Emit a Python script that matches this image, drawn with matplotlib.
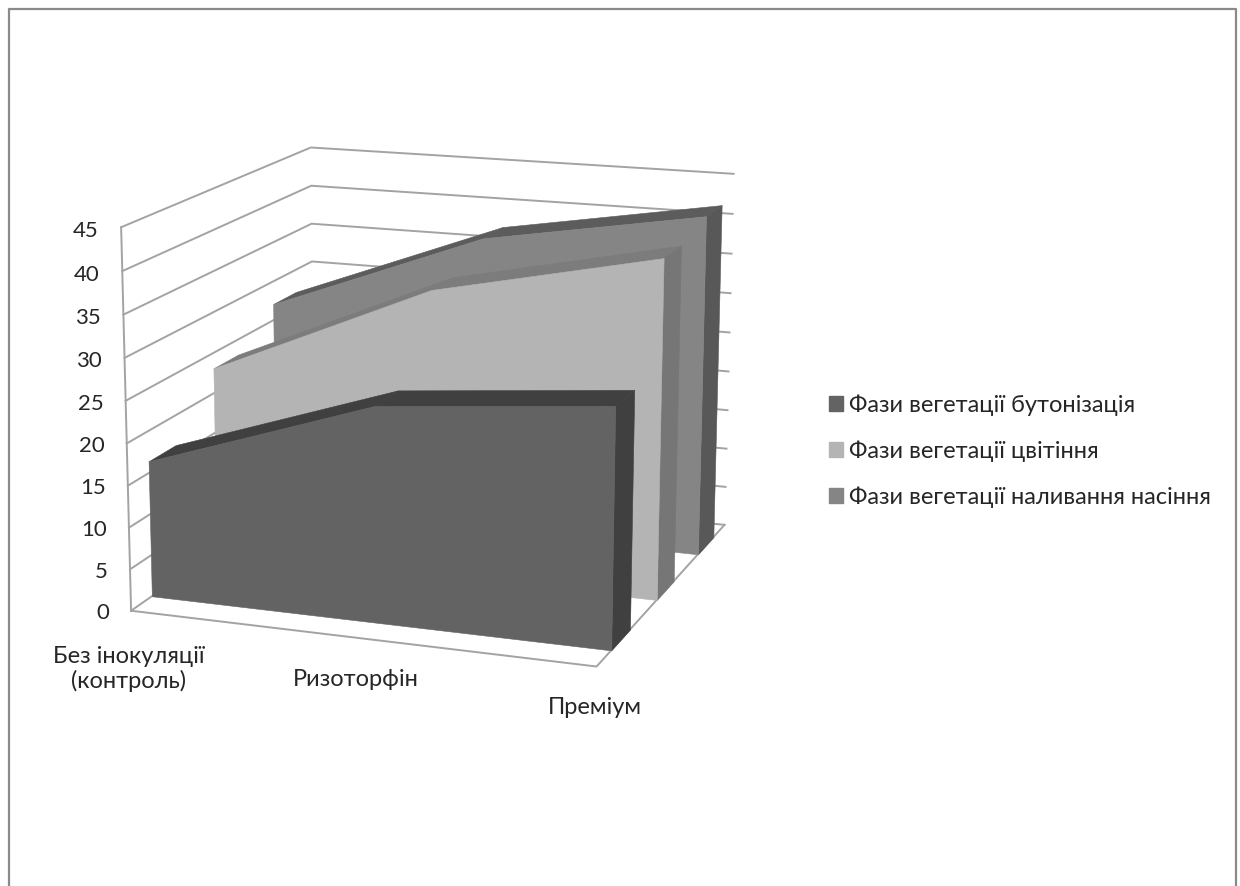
import matplotlib
matplotlib.use('Agg')
import matplotlib.pyplot as plt
from matplotlib.lines import Line2D
from matplotlib.patches import Patch
from mpl_toolkits.mplot3d import proj3d
from mpl_toolkits.mplot3d.art3d import Poly3DCollection

plt.rcParams['font.family'] = ['Lato', 'Noto Sans']

categories = ['Без інокуляції\n(контроль)', 'Ризоторфін', 'Преміум']
series_names = ['Фази вегетації бутонізація', 'Фази вегетації цвітіння', 'Фази вегетації наливання насіння']
budding = [16.4, 25.5, 28.0]
flowering = [23.1, 34.9, 40.7]
seed_fill = [27.1, 37.5, 42.1]
y_ticks = [0, 5, 10, 15, 20, 25, 30, 35, 40, 45]

text_color = '#262626'
grid_color = '#a3a3a3'

fig = plt.figure(figsize=(12.4, 8.86), dpi=100)

# camera and axes box fitted to the corners of the walls in the reference
side = 4021.04 / 5.4054
left = 441.824 - 0.51351 * side
bottom = 886 - 385.414 - 0.51351 * side
ax = fig.add_axes([left / 1240, bottom / 886, side / 1240, side / 886], projection='3d')
ax.set_xlim(0, 2, view_margin=0)
ax.set_ylim(0, 1, view_margin=0)
ax.set_zlim(0, 45, view_margin=0)
ax.set_xticks([])
ax.set_yticks([])
ax.set_zticks([])
ax.view_init(elev=14.2722, azim=-70.4006, roll=-0.0764)
ax.set_proj_type('persp', focal_length=0.7336)
ax.set_box_aspect((1, 1.0048, 0.8043))
ax.set_axis_off()
ax.patch.set_alpha(0)
ax.computed_zorder = False

for v in y_ticks:
    ax.plot([0, 0, 2], [0, 1, 1], [v, v, v], color=grid_color, lw=1.4, zorder=1)
ax.plot([0, 0], [0, 0], [0, 45], color=grid_color, lw=1.4, zorder=1)
ax.plot([0, 2, 2], [0, 0, 1], [0, 0, 0], color=grid_color, lw=1.4, zorder=1)


def draw_series(vals, d0, d1, front, top, right, z):
    xs = range(len(vals))
    for i in range(len(vals) - 1):
        q = [(xs[i], d0, vals[i]), (xs[i + 1], d0, vals[i + 1]), (xs[i + 1], d1, vals[i + 1]), (xs[i], d1, vals[i])]
        ax.add_collection3d(Poly3DCollection([q], facecolors=top, edgecolors=top, linewidths=0.4, zorder=z))
    q = [(2, d0, 0), (2, d1, 0), (2, d1, vals[2]), (2, d0, vals[2])]
    ax.add_collection3d(Poly3DCollection([q], facecolors=right, edgecolors=right, linewidths=0.4, zorder=z))
    q = [(0, d0, 0)] + [(x, d0, v) for x, v in zip(xs, vals)] + [(2, d0, 0)]
    ax.add_collection3d(Poly3DCollection([q], facecolors=front, edgecolors=front, linewidths=0.4, zorder=z + 1))


# back to front
draw_series(seed_fill, 0.7667, 0.9, '#858585', '#5c5c5c', '#585858', 2)
draw_series(flowering, 0.4333, 0.5667, '#b4b4b4', '#7c7c7c', '#767676', 4)
draw_series(budding, 0.1, 0.2333, '#636363', '#404040', '#404040', 6)

# tick labels sit just left of the front edge of the wall
M = ax.get_proj()
for v in y_ticks:
    vx, vy, _ = proj3d.proj_transform(-0.1, 0, v - 0.6, M)
    ax.text2D(vx, vy, str(v), transform=ax.transData, ha='right', va='center', fontsize=16, color=text_color)

label_xy = [(129, 669), (356, 680), (595, 707)]
for lab, (x, y) in zip(categories, label_xy):
    fig.text(x / 1240, 1 - y / 886, lab, ha='center', va='center', fontsize=17, color=text_color, linespacing=1.17)

handles = [Patch(color=c) for c in ['#636363', '#b4b4b4', '#858585']]
fig.legend(handles, series_names, loc='center left', bbox_to_anchor=(829 / 1240, 1 - 451 / 886), frameon=False,
           fontsize=17, labelspacing=1.04, handlelength=0.6, handleheight=0.6, handletextpad=0.25,
           labelcolor=text_color, borderpad=0, borderaxespad=0)

# chart frame, cut off by the bottom of the image
fig.add_artist(Line2D([9 / 1240, 9 / 1240, 1236 / 1240, 1236 / 1240], [0, 1 - 9 / 886, 1 - 9 / 886, 0],
                      transform=fig.transFigure, color='#8a8a8a', lw=1.6))

fig.savefig('out.png', dpi=100)
